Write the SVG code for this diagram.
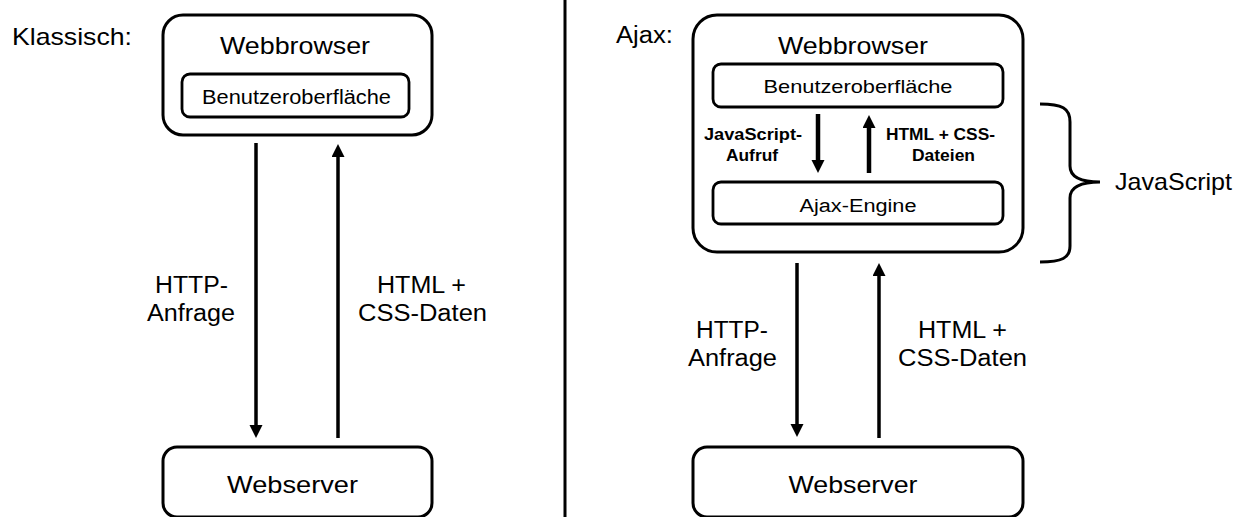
<svg xmlns="http://www.w3.org/2000/svg" width="1234" height="517" viewBox="0 0 1234 517">
<style>
text{font-family:"Liberation Sans",Arial,sans-serif;fill:#000}
.c{text-anchor:middle}
.box{fill:#fff;stroke:#000;stroke-width:3}
.ibox{fill:#fff;stroke:#000;stroke-width:2.8}
.b{font-weight:bold}
.arr{stroke:#000;stroke-width:3.5;fill:none;marker-end:url(#ah)}
.arr2{stroke:#000;stroke-width:4.5;fill:none;marker-end:url(#ah)}
</style>
<defs>
<marker id="ah" markerUnits="userSpaceOnUse" markerWidth="14" markerHeight="14" refX="2" refY="6.5" orient="auto">
<path d="M0,0 L13,6.5 L0,13 z" fill="#000"/>
</marker>
</defs>
<rect width="1234" height="517" fill="#fff"/>
<g id="divider"><line x1="565" y1="0" x2="565" y2="517" stroke="#000" stroke-width="3"/></g>
<g id="label-klassisch"><text x="12" y="45" font-size="24" textLength="120" lengthAdjust="spacingAndGlyphs">Klassisch:</text></g>
<g id="label-ajax"><text x="616" y="43" font-size="23" textLength="57" lengthAdjust="spacingAndGlyphs">Ajax:</text></g>
<g id="browser-left">
<rect class="box" x="163" y="15" width="269" height="120" rx="20"/>
<text class="c" x="295" y="54" font-size="24" textLength="150" lengthAdjust="spacingAndGlyphs">Webbrowser</text>
</g>
<g id="ui-left">
<rect class="ibox" x="182" y="74" width="227" height="43" rx="8"/>
<text class="c" x="296.5" y="104" font-size="19.5" textLength="189" lengthAdjust="spacingAndGlyphs">Benutzeroberfläche</text>
</g>
<g id="server-left">
<rect class="box" x="163" y="447" width="269" height="70" rx="14"/>
<text class="c" x="292.5" y="493" font-size="24" textLength="131" lengthAdjust="spacingAndGlyphs">Webserver</text>
</g>
<g id="browser-right">
<rect class="box" x="693" y="15" width="330" height="237" rx="24"/>
<text class="c" x="853" y="54" font-size="24" textLength="150" lengthAdjust="spacingAndGlyphs">Webbrowser</text>
</g>
<g id="ui-right">
<rect class="ibox" x="713" y="64" width="290" height="43" rx="8"/>
<text class="c" x="858" y="93" font-size="18.5" textLength="189" lengthAdjust="spacingAndGlyphs">Benutzeroberfläche</text>
</g>
<g id="engine">
<rect class="ibox" x="713" y="182" width="290" height="42" rx="8"/>
<text class="c" x="858" y="212" font-size="18" textLength="117" lengthAdjust="spacingAndGlyphs">Ajax-Engine</text>
</g>
<g id="server-right">
<rect class="box" x="693" y="447" width="330" height="70" rx="14"/>
<text class="c" x="853" y="493" font-size="24" textLength="129" lengthAdjust="spacingAndGlyphs">Webserver</text>
</g>
<g id="brace">
<path d="M1040,104 C1062,104 1070,108 1070,122 L1070,166 C1070,177 1080,182 1100,182 C1080,182 1070,187 1070,198 L1070,246 C1070,258 1062,262 1040,262" fill="none" stroke="#000" stroke-width="3"/>
<text x="1115" y="190" font-size="24" textLength="117" lengthAdjust="spacingAndGlyphs">JavaScript</text>
</g>
<g id="connectors">
<line class="arr" x1="256" y1="143" x2="256" y2="427"/>
<line class="arr" x1="338" y1="438" x2="338" y2="155"/>
<line class="arr2" x1="818" y1="114" x2="818" y2="162"/>
<line class="arr2" x1="869" y1="173" x2="869" y2="126"/>
<line class="arr" x1="797" y1="263" x2="797" y2="426"/>
<line class="arr" x1="879" y1="438" x2="879" y2="274"/>
</g>
<g id="connector-labels">
<text class="c" x="191.5" y="293" font-size="23" textLength="73" lengthAdjust="spacingAndGlyphs">HTTP-</text>
<text class="c" x="191" y="321" font-size="23" textLength="88" lengthAdjust="spacingAndGlyphs">Anfrage</text>
<text class="c" x="421.5" y="293" font-size="23" textLength="89" lengthAdjust="spacingAndGlyphs">HTML +</text>
<text class="c" x="422.5" y="321" font-size="23" textLength="129" lengthAdjust="spacingAndGlyphs">CSS-Daten</text>
<text class="c" x="732" y="338" font-size="23" textLength="72" lengthAdjust="spacingAndGlyphs">HTTP-</text>
<text class="c" x="732.5" y="366" font-size="23" textLength="89" lengthAdjust="spacingAndGlyphs">Anfrage</text>
<text class="c" x="962.5" y="338" font-size="23" textLength="89" lengthAdjust="spacingAndGlyphs">HTML +</text>
<text class="c" x="962.5" y="366" font-size="23" textLength="129" lengthAdjust="spacingAndGlyphs">CSS-Daten</text>
<text class="c b" x="753" y="140" font-size="16" textLength="98" lengthAdjust="spacingAndGlyphs">JavaScript-</text>
<text class="c b" x="752" y="161" font-size="16" textLength="52" lengthAdjust="spacingAndGlyphs">Aufruf</text>
<text class="c b" x="940.5" y="140" font-size="16" textLength="109" lengthAdjust="spacingAndGlyphs">HTML + CSS-</text>
<text class="c b" x="943.5" y="161" font-size="16" textLength="63" lengthAdjust="spacingAndGlyphs">Dateien</text>
</g>
</svg>
